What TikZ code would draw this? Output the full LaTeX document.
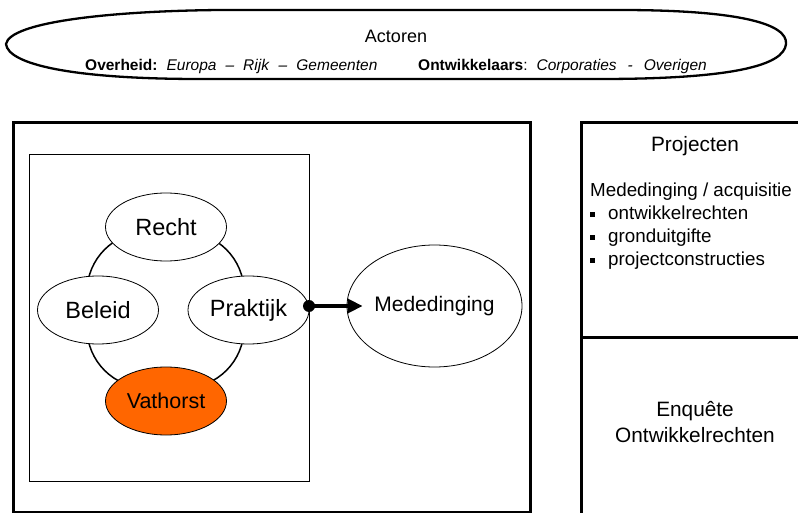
\documentclass[tikz,border=0pt]{standalone}
\usepackage{fontspec}
\setmainfont{Liberation Sans}
\usetikzlibrary{arrows.meta}
\usetikzlibrary{shapes.geometric}
\usetikzlibrary{calc}
\usepackage{xcolor}
\definecolor{vathorstorange}{HTML}{FF6600}

\tikzset{
  bubble/.style={draw, ellipse, line width=0.8pt, inner sep=0pt,
    minimum width=121pt, minimum height=68pt, fill=white,
    font=\fontsize{23.5}{28}\selectfont},
  panel/.style={line width=3pt},
  paneltext/.style={font=\fontsize{20.8}{26}\selectfont, inner sep=0pt}
}

\newcommand{\bulletsq}{\rule[3pt]{5pt}{5pt}\hspace{13pt}}
\newcommand{\gap}{\hspace{9pt}}

\begin{document}
\begin{tikzpicture}[x=1pt,y=-1pt]
        \useasboundingbox (0,0) rectangle (798,513);

        % Actoren
        \draw[line width=2.3pt] (6,44) .. controls (10,22) and (110,11) .. (220,10)
          -- (620,10) .. controls (740,10) and (788,24) .. (786,44)
          .. controls (784,66) and (730,79) .. (600,79)
          -- (200,79) .. controls (70,79) and (8,64) .. (6,44) -- cycle;
        \node[font=\fontsize{18}{22}\selectfont] (actoren) at (396,36.5) {Actoren};
        \node[font=\fontsize{15.5}{19}\selectfont, anchor=base west, inner sep=0pt] (overheid) at (85,71)
          {\textbf{Overheid:}\gap\textit{Europa}\gap\textit{–}\gap\textit{Rijk}\gap\textit{–}\gap\textit{Gemeenten}};
        \node[font=\fontsize{15.5}{19}\selectfont, anchor=base west, inner sep=0pt] (ontwikkelaars) at (418,71)
          {\textbf{Ontwikkelaars}:\gap\textit{Corporaties}\hspace{11pt}\textit{-}\hspace{11pt}\textit{Overigen}};

        % Frames
        \draw[panel] (13,123) rectangle (530,512);
        \draw[line width=1pt] (29,155) rectangle (309,481);
        \draw[panel] (802,123) -- (581,123) -- (581,516);
        \draw[panel] (581,337) -- (802,337);

        % Cycle
        \draw[line width=1.5pt, rounded corners=60pt] (87,232) rectangle (244,388);
        \node[bubble] (recht) at (166,227) {Recht};
        \node[bubble] (beleid) at (98,310) {Beleid};
        \node[bubble] (praktijk) at (248.5,310) {Praktijk};
        \node[bubble, fill=vathorstorange, font=\fontsize{21.5}{26}\selectfont] (vathorst) at (166,401) {Vathorst};

        % Mededinging
        \node[bubble, minimum width=175pt, minimum height=122pt, font=\fontsize{21}{25}\selectfont] (mededinging) at (434.5,306) {Mededinging};
        \coordinate (dot) at (309,306);
        \coordinate (tip) at ([xshift=16pt]mededinging.west);
        \draw[line width=4.5pt, -{Triangle[length=15pt,width=14pt]}] (dot) -- (dot -| tip);
        \fill (dot) circle (6pt);

        % Projecten
        \node[paneltext] (projecten) at (695,146) {Projecten};
        \node[anchor=north west, align=left, inner sep=0pt, font=\fontsize{18.8}{23}\selectfont] (acquisitie) at (590,183)
          {Mededinging / acquisitie\\
           \bulletsq ontwikkelrechten\\
           \bulletsq gronduitgifte\\
           \bulletsq projectconstructies};

        % Enquete
        \node[paneltext, align=center] (enquete) at (695,422) {Enquête\\Ontwikkelrechten};
    \end{tikzpicture}
\end{document}
